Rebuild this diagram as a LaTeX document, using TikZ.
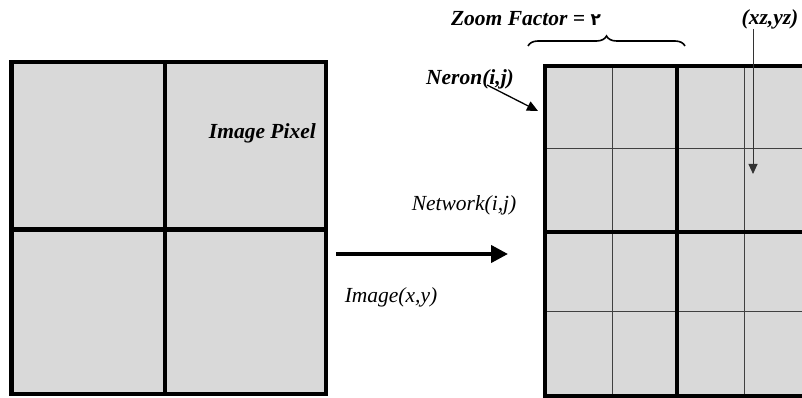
\documentclass[tikz,border=0pt]{standalone}
\usepackage{fontspec}
\setmainfont{Liberation Serif}
\newfontfamily\arabicfont[Script=Arabic]{DejaVu Sans}
\usepackage{xcolor}
\usetikzlibrary{arrows.meta,decorations.pathreplacing}

\definecolor{cellgray}{RGB}{217,217,217}
\tikzset{
  bigline/.style={line width=4.5pt},
  thinline/.style={line width=0.9pt,black!75},
  lbl/.style={font=\itshape\fontsize{21.5}{25}\selectfont,inner sep=0pt},
  blbl/.style={font=\bfseries\itshape\fontsize{21.5}{25}\selectfont,inner sep=0pt}
}

\begin{document}
\begin{tikzpicture}[x=1pt,y=-1pt]
\useasboundingbox (0,0) rectangle (802,398);
\clip (0,0) rectangle (802,398);
% image: 2x2 pixels
\fill[cellgray] (11.5,62) rectangle (326,394);
\draw[bigline] (11.5,62) rectangle (326,394);
\draw[bigline] (165,62) -- (165,394);
\draw[bigline] (11.5,229.5) -- (326,229.5);
\node[blbl,anchor=east] (pixel) at (316,133) {Image Pixel};

% network: 4x4 neurons
\fill[cellgray] (545,66) rectangle (809,396.5);
\foreach \x in {612,744}{
\draw[thinline] (\x,66) -- (\x,396.5);
}
\foreach \y in {148,311}{
\draw[thinline] (545,\y) -- (809,\y);
}
\draw[bigline] (545,66) rectangle (809,396.5);
\draw[bigline] (677,66) -- (677,396.5);
\draw[bigline] (545,232) -- (809,232);

% main arrow
\coordinate (arrfrom) at (336,254);
\coordinate (arrto) at (508,254);
\draw[line width=4pt,-{Triangle[length=17pt,width=17pt]}] (arrfrom) -- (arrto);
\node[lbl] (network) at (464,205) {Network(i,j)};
\node[lbl] (image) at (391,297) {Image(x,y)};

% zoom factor
\node[blbl] (zoom) at (526,19) {Zoom Factor = {\arabicfont\upshape\fontsize{17}{20}\selectfont ٢}};
\coordinate (bl) at (528,46);
\coordinate (br) at (685,46);
\draw[line width=1.6pt,decorate,decoration={brace,amplitude=10pt}] (bl) -- (br);

% neuron
\node[blbl] (neron) at (470,79) {Neron(i,j)};
\coordinate (neronend) at (538,111);
\draw[line width=1.3pt,-{Triangle[length=11pt,width=10pt]}] ([xshift=17pt,yshift=-6pt]neron.center) -- (neronend);

% zoomed position
\node[blbl] (xzyz) at (770,19) {(xz,yz)};
\coordinate (xztip) at (753,174);
\draw[line width=0.9pt,black!80,-{Triangle[length=10pt,width=9pt]}] (xztip |- xzyz.south) -- (xztip);
\end{tikzpicture}
\end{document}
